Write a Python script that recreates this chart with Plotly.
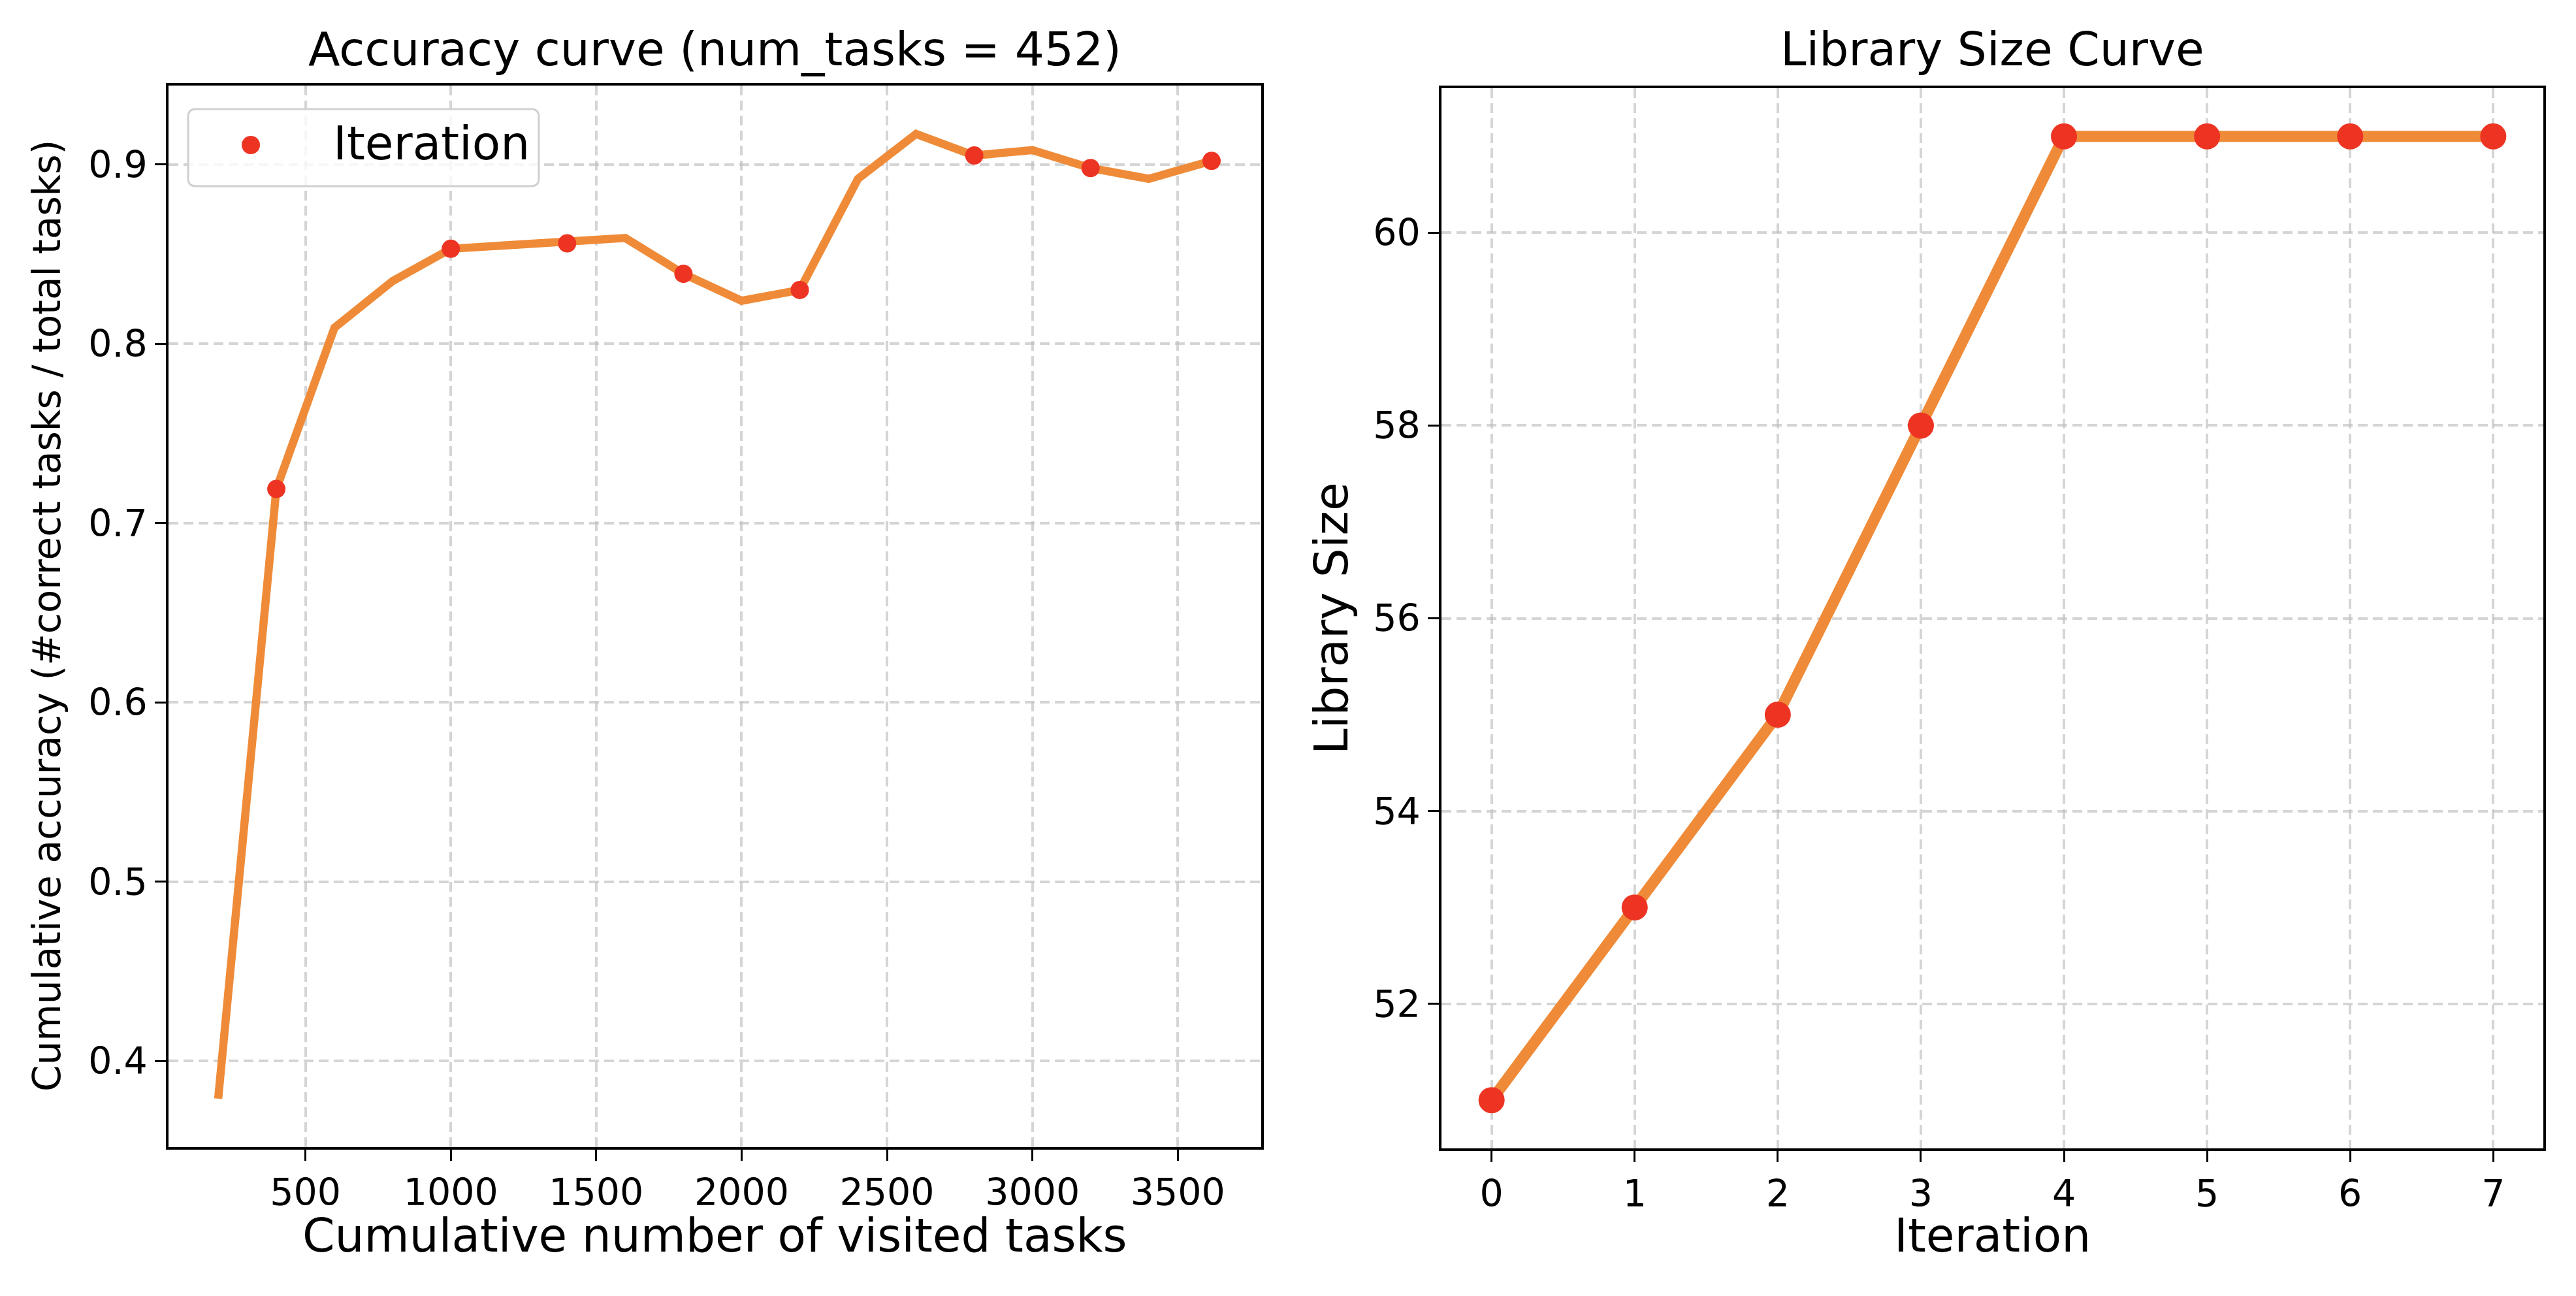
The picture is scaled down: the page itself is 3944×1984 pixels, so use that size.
import plotly.graph_objects as go

W, H = 3944, 1984
OFF = 8  # default page body margin
FW, FH = W - 2 * OFF, H - 2 * OFF

# ---- data ----
visited_tasks = [200, 400, 600, 800, 1000, 1200, 1400, 1600, 1800, 2000, 2200,
                 2400, 2600, 2800, 3000, 3200, 3400, 3616]
cumulative_accuracy = [0.379, 0.719, 0.809, 0.835, 0.853, 0.855, 0.856, 0.859, 0.839,
                       0.824, 0.830, 0.892, 0.917, 0.905, 0.908, 0.898, 0.892, 0.902]
iteration_visited = [400, 1000, 1400, 1800, 2200, 2800, 3200, 3616]
iteration_accuracy = [0.719, 0.853, 0.856, 0.839, 0.830, 0.905, 0.898, 0.902]

iterations = [0, 1, 2, 3, 4, 5, 6, 7]
library_size = [51, 53, 55, 58, 61, 61, 61, 61]

acc_xticks = [500, 1000, 1500, 2000, 2500, 3000, 3500]
acc_yticks = [0.4, 0.5, 0.6, 0.7, 0.8, 0.9]
lib_xticks = [0, 1, 2, 3, 4, 5, 6, 7]
lib_yticks = [52, 54, 56, 58, 60]

LINE = "#EF8B38"
DOT = "#ED3423"
FONT = "DejaVu Sans"


def px_x(p):
    return (p - OFF) / FW


def px_y(p):
    return 1 - (p - OFF) / FH


fig = go.Figure()
fig.add_trace(go.Scatter(x=visited_tasks, y=cumulative_accuracy, mode="lines",
                         line=dict(color=LINE, width=12.5), showlegend=False,
                         xaxis="x", yaxis="y"))
fig.add_trace(go.Scatter(x=iteration_visited, y=iteration_accuracy, mode="markers",
                         marker=dict(color=DOT, size=28), name="Iteration", showlegend=False,
                         xaxis="x", yaxis="y"))
fig.add_trace(go.Scatter(x=iterations, y=library_size, mode="lines+markers",
                         line=dict(color=LINE, width=17),
                         marker=dict(color=DOT, size=40), showlegend=False,
                         xaxis="x2", yaxis="y2"))

axis_common = dict(
    showline=True, mirror=True, linecolor="black", linewidth=3.5,
    ticks="outside", ticklen=17, tickwidth=3.3, tickcolor="black",
    tickfont=dict(family=FONT, size=57, color="black"),
    showgrid=True, gridcolor="rgba(190,190,190,0.65)", gridwidth=3.5,
    griddash="15px,8px", zeroline=False,
)

fig.update_layout(
    width=FW, height=FH,
    margin=dict(l=0, r=0, t=0, b=0),
    paper_bgcolor="white", plot_bgcolor="white",
    font=dict(family=FONT, color="black"),
    xaxis=dict(domain=[px_x(258), px_x(1931)], range=[29.2, 3786.8],
               tickvals=acc_xticks, anchor="y", **axis_common),
    yaxis=dict(domain=[px_y(1756), px_y(131)], range=[0.352, 0.944],
               tickvals=acc_yticks, ticktext=[f"{v:.1f}" for v in acc_yticks],
               anchor="x", **axis_common),
    xaxis2=dict(domain=[px_x(2207), px_x(3894)], range=[-0.35, 7.35],
                tickvals=lib_xticks, anchor="y2", **axis_common),
    yaxis2=dict(domain=[px_y(1758), px_y(135)], range=[50.5, 61.5],
                tickvals=lib_yticks, anchor="x2", **axis_common),
    showlegend=False,
)

# ---- legend box (drawn manually to get a full-size marker) ----
lx0, lx1, ly0, ly1, r = 288, 825, 167, 285, 12
rx, ry = r / FW, r / FH
X0, X1 = px_x(lx0), px_x(lx1)
Y0, Y1 = px_y(ly0), px_y(ly1)  # Y0 top, Y1 bottom (paper)
path = (f"M {X0 + rx},{Y0} L {X1 - rx},{Y0} Q {X1},{Y0} {X1},{Y0 - ry} "
        f"L {X1},{Y1 + ry} Q {X1},{Y1} {X1 - rx},{Y1} "
        f"L {X0 + rx},{Y1} Q {X0},{Y1} {X0},{Y1 + ry} "
        f"L {X0},{Y0 - ry} Q {X0},{Y0} {X0 + rx},{Y0} Z")
fig.add_shape(type="path", path=path, xref="paper", yref="paper",
              fillcolor="rgba(255,255,255,0.8)", line=dict(color="#d0d0d0", width=3))
mr = 14
fig.add_shape(type="circle", xref="paper", yref="paper",
              x0=px_x(384 - mr), x1=px_x(384 + mr), y0=px_y(222 + mr), y1=px_y(222 - mr),
              fillcolor=DOT, line=dict(width=0))

annotations = [
    dict(text="Accuracy curve (num_tasks = 452)", x=px_x(1094), y=px_y(76), size=71, angle=0, xa="center"),
    dict(text="Library Size Curve", x=px_x(3050), y=px_y(76), size=71, angle=0, xa="center"),
    dict(text="Cumulative number of visited tasks", x=px_x(1094), y=px_y(1891), size=71, angle=0, xa="center"),
    dict(text="Iteration", x=px_x(3050), y=px_y(1891), size=71, angle=0, xa="center"),
    dict(text="Cumulative accuracy (#correct tasks / total tasks)", x=px_x(72), y=px_y(943), size=58, angle=-90, xa="center"),
    dict(text="Library Size", x=px_x(2039), y=px_y(946), size=71, angle=-90, xa="center"),
    dict(text="Iteration", x=px_x(508), y=px_y(220), size=71, angle=0, xa="left"),
]
for a in annotations:
    fig.add_annotation(text=a["text"], x=a["x"], y=a["y"], xref="paper", yref="paper",
                       xanchor=a["xa"], yanchor="middle", showarrow=False,
                       textangle=a["angle"], font=dict(family=FONT, size=a["size"], color="black"))

fig.write_html("out.html")
